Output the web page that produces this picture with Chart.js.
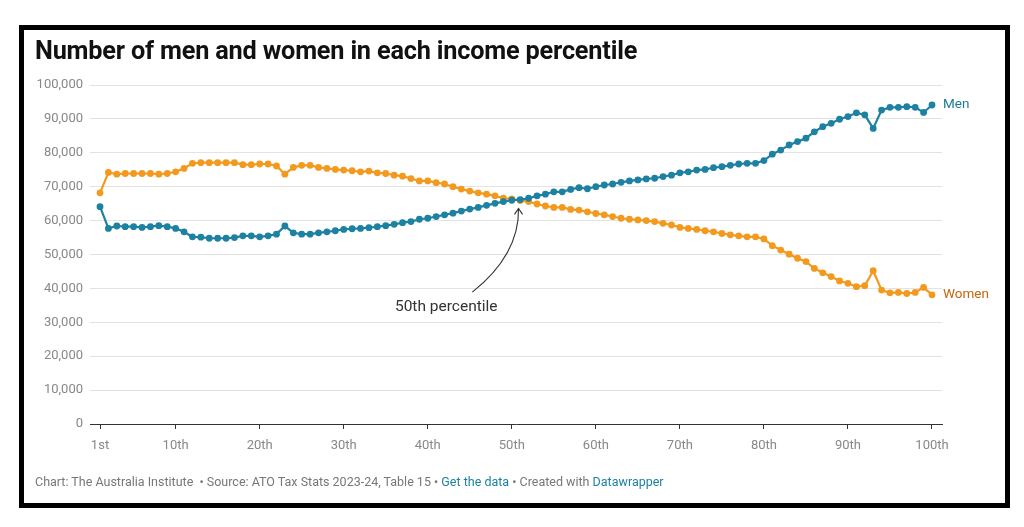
<!DOCTYPE html>
<html>
<head>
<meta charset="utf-8">
<script src="https://cdn.jsdelivr.net/npm/chart.js@4.4.1/dist/chart.umd.min.js"></script>
<style>
  html, body { margin: 0; padding: 0; background: #fff; }
  body { width: 1024px; height: 527px; position: relative; overflow: hidden; font-family: Roboto, sans-serif; }
  #frame { position: absolute; left: 19px; top: 25px; width: 981px; height: 473px; border: 5px solid #000; }
  #title { position: absolute; left: 35px; top: 36px; font-size: 25.3px; font-weight: 700; color: #111; letter-spacing: -0.2px; white-space: nowrap; }
  #footer { position: absolute; left: 35px; top: 474px; font-size: 12.5px; color: #777; white-space: nowrap; }
  #footer a { color: #1d81a2; text-decoration: none; }
  #chart { position: absolute; left: 0; top: 0; }
</style>
</head>
<body>
<canvas id="chart" width="1024" height="527"></canvas>
<div id="frame"></div>
<div id="title">Number of men and women in each income percentile</div>
<div id="footer">Chart: The Australia Institute &nbsp;• Source: ATO Tax Stats 2023-24, Table 15 • <a>Get the data</a> • Created with <a>Datawrapper</a></div>
<script>
const percentiles = Array.from({length: 100}, (_, i) => i + 1);

const men = [
  64100, 57700, 58400, 58200, 58200, 58000, 58200, 58500, 58200, 57700,
  56700, 55200, 55100, 54800, 54800, 54800, 55000, 55500, 55500, 55200,
  55500, 56000, 58400, 56400, 56000, 56000, 56400, 56700, 57000, 57400,
  57600, 57700, 57900, 58200, 58500, 58900, 59400, 59700, 60400, 60700,
  61200, 61700, 62200, 62800, 63400, 63900, 64500, 65100, 65600, 66000,
  66200, 66600, 67300, 67800, 68500, 68500, 69200, 69700, 69400, 70000,
  70500, 70800, 71300, 71700, 72000, 72300, 72500, 73000, 73400, 74100,
  74400, 74900, 75100, 75600, 75900, 76300, 76700, 76900, 76900, 77700,
  79600, 80800, 82300, 83300, 84300, 86200, 87700, 88700, 89900, 90700,
  91800, 91200, 87200, 92600, 93400, 93400, 93600, 93400, 91900, 94100
];

const women = [
  68200, 74200, 73700, 73900, 73900, 73900, 73900, 73700, 73900, 74400,
  75400, 76900, 77100, 77100, 77100, 77100, 77100, 76500, 76500, 76700,
  76700, 76100, 73700, 75700, 76300, 76300, 75700, 75400, 75100, 74900,
  74700, 74400, 74600, 74100, 73900, 73400, 73100, 72400, 71700, 71700,
  71200, 70800, 70000, 69300, 68700, 68200, 67800, 67300, 66600, 66400,
  65900, 65600, 64900, 64300, 63900, 63900, 63300, 63100, 62600, 62100,
  61700, 61200, 60700, 60400, 60200, 60000, 59700, 59200, 58700, 58000,
  57700, 57400, 57000, 56700, 56200, 55800, 55500, 55200, 55200, 54600,
  52600, 51300, 50100, 48900, 47900, 45900, 44600, 43500, 42200, 41500,
  40500, 40800, 45200, 39500, 38700, 38800, 38500, 38800, 40300, 38100
];

const tickValues = [1, 10, 20, 30, 40, 50, 60, 70, 80, 90, 100];
const tickLabels = ['1st', '10th', '20th', '30th', '40th', '50th', '60th', '70th', '80th', '90th', '100th'];

const BLUE = '#1d81a2';
const ORANGE = '#f39a1e';

// series names at the end of each line
const endLabels = {
  id: 'endLabels',
  afterDatasetsDraw(chart) {
    const ctx = chart.ctx;
    ctx.save();
    ctx.font = '13.5px Roboto';
    ctx.textBaseline = 'middle';
    chart.data.datasets.forEach((ds, i) => {
      const pts = chart.getDatasetMeta(i).data;
      const last = pts[pts.length - 1];
      ctx.fillStyle = ds.labelColor;
      ctx.fillText(ds.label, last.x + 11, last.y);
    });
    ctx.restore();
  }
};

// "50th percentile" note with curved arrow
const note = {
  id: 'note',
  afterDatasetsDraw(chart) {
    const {ctx, scales: {x, y}} = chart;
    const tx = x.getPixelForValue(42.2), ty = y.getPixelForValue(34600);
    const ax = x.getPixelForValue(45.3), ay = y.getPixelForValue(38900);
    const bx = x.getPixelForValue(50.8), by = y.getPixelForValue(63600);
    const cx = x.getPixelForValue(50.9), cy = y.getPixelForValue(50000);
    ctx.save();
    ctx.font = '15.5px Roboto';
    ctx.fillStyle = '#333';
    ctx.textAlign = 'center';
    ctx.textBaseline = 'middle';
    ctx.fillText('50th percentile', tx, ty);
    ctx.strokeStyle = '#333';
    ctx.lineWidth = 1.1;
    ctx.beginPath();
    ctx.moveTo(ax, ay);
    ctx.quadraticCurveTo(cx, cy, bx, by);
    ctx.stroke();
    ctx.beginPath();
    ctx.moveTo(bx - 4, by + 6);
    ctx.lineTo(bx, by);
    ctx.lineTo(bx + 4, by + 6);
    ctx.stroke();
    ctx.restore();
  }
};

new Chart(document.getElementById('chart'), {
  type: 'line',
  data: {
    datasets: [
      {
        label: 'Men',
        labelColor: '#1c7a98',
        data: percentiles.map((p, i) => ({x: p, y: men[i]})),
        borderColor: BLUE,
        backgroundColor: BLUE,
        borderWidth: 2.2,
        pointRadius: 3.4,
        pointBorderWidth: 0,
        tension: 0
      },
      {
        label: 'Women',
        labelColor: '#c5650c',
        data: percentiles.map((p, i) => ({x: p, y: women[i]})),
        borderColor: ORANGE,
        backgroundColor: ORANGE,
        borderWidth: 2.2,
        pointRadius: 3.4,
        pointBorderWidth: 0,
        tension: 0
      }
    ]
  },
  options: {
    responsive: false,
    animation: false,
    layout: { padding: { top: 85, left: 0, right: 82, bottom: 73 } },
    plugins: { legend: { display: false }, tooltip: { enabled: false } },
    scales: {
      x: {
        type: 'linear',
        min: -0.19,
        max: 101.19,
        afterBuildTicks: s => { s.ticks = tickValues.map(v => ({value: v})); },
        afterFit: s => { s.height = 30; },
        ticks: {
          autoSkip: false,
          maxRotation: 0,
          padding: 9,
          color: '#888',
          font: { family: 'Roboto', size: 13 },
          callback: v => tickLabels[tickValues.indexOf(v)]
        },
        grid: { drawOnChartArea: false, drawTicks: true, tickLength: 5, tickColor: '#333' },
        border: { display: true, color: '#333', width: 1 }
      },
      y: {
        min: 0,
        max: 100000,
        afterFit: s => { s.width = 90; },
        ticks: {
          stepSize: 10000,
          padding: 7,
          color: '#888',
          font: { family: 'Roboto', size: 13 },
          callback: v => v.toLocaleString('en-US')
        },
        grid: {
          drawTicks: false,
          color: c => c.tick && c.tick.value === 0 ? 'rgba(0,0,0,0)' : '#e3e3e3'
        },
        border: { display: false }
      }
    }
  },
  plugins: [endLabels, note]
});
</script>
</body>
</html>
